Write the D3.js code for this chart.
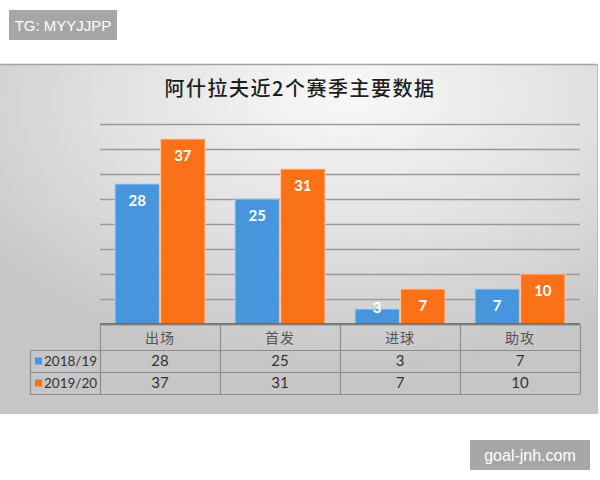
<!DOCTYPE html>
<html>
<head>
<meta charset="utf-8">
<script src="https://cdn.jsdelivr.net/npm/d3@7"></script>
<style>
  html, body { margin: 0; padding: 0; background: #fff; }
  svg { display: block; }
</style>
</head>
<body>
<svg id="chart" width="600" height="480"></svg>
<script>
const title = "阿什拉夫近2个赛季主要数据";
const categories = ["出场", "首发", "进球", "助攻"];
const seriesNames = ["2018/19", "2019/20"];
const values2018 = [28, 25, 3, 7];
const values2019 = [37, 31, 7, 10];
const gridTicks = [5, 10, 15, 20, 25, 30, 35, 40];
const seriesColors = ["#4795dd", "#fb7117"];
const seriesEdge = ["#a9d0f3", "#ffc9a0"];

const seriesValues = [values2018, values2019];

const svg = d3.select("#chart");
const defs = svg.append("defs");

const rg = defs.append("radialGradient").attr("id", "bg")
  .attr("cx", "58%").attr("cy", "12%").attr("r", "75%")
  .attr("fx", "58%").attr("fy", "8%");
rg.append("stop").attr("offset", "0%").attr("stop-color", "#f9f9f9");
rg.append("stop").attr("offset", "55%").attr("stop-color", "#e0e0e0");
rg.append("stop").attr("offset", "100%").attr("stop-color", "#c6c6c6");

svg.append("rect").attr("x", 0).attr("y", 64).attr("width", 598).attr("height", 350)
  .attr("fill", "url(#bg)");
svg.append("line").attr("x1", 0).attr("x2", 598).attr("y1", 64.5).attr("y2", 64.5)
  .attr("stroke", "#a4a4a4").attr("stroke-width", 1.5);
svg.append("line").attr("x1", 597.5).attr("x2", 597.5).attr("y1", 64).attr("y2", 414)
  .attr("stroke", "#bdbdbd").attr("stroke-width", 1);

svg.append("text").attr("x", 300).attr("y", 96).attr("text-anchor", "middle")
  .attr("font-family", "'Noto Sans CJK SC', sans-serif").attr("font-size", 20)
  .attr("font-weight", 500).attr("letter-spacing", 1.5)
  .attr("fill", "#1e1e1e").text(title);

const plotLeft = 100, plotRight = 580;
const y = d3.scaleLinear().domain([0, 40]).range([324, 124]);
const x0 = d3.scaleBand().domain(categories).range([plotLeft, plotRight])
  .paddingInner(0.25).paddingOuter(0.125);
const x1 = d3.scaleBand().domain(seriesNames).range([0, x0.bandwidth()]).paddingInner(0.03);
const col = d3.scaleBand().domain(categories).range([plotLeft, plotRight]);

svg.append("g").selectAll("line").data(gridTicks).join("line")
  .attr("x1", plotLeft).attr("x2", plotRight)
  .attr("y1", d => Math.round(y(d)) + 0.5).attr("y2", d => Math.round(y(d)) + 0.5)
  .attr("stroke", "#9a9a9a").attr("stroke-width", 1.3);

const groups = svg.append("g").selectAll("g").data(categories).join("g")
  .attr("transform", d => `translate(${x0(d)},0)`);

groups.selectAll("rect").data((c, i) => seriesNames.map((s, si) => ({ s, si, v: seriesValues[si][i] })))
  .join("rect")
  .attr("x", d => x1(d.s))
  .attr("y", d => y(d.v))
  .attr("width", x1.bandwidth())
  .attr("height", d => y(0) - y(d.v))
  .attr("fill", d => seriesColors[d.si])
  .attr("stroke", d => seriesEdge[d.si])
  .attr("stroke-width", 1);

groups.selectAll("text").data((c, i) => seriesNames.map((s, si) => ({ s, si, v: seriesValues[si][i] })))
  .join("text")
  .attr("x", d => x1(d.s) + x1.bandwidth() / 2)
  .attr("y", d => Math.min(y(d.v) + 17, y(0) - 16) + 5)
  .attr("text-anchor", "middle")
  .attr("font-family", "Lato, 'Open Sans', sans-serif")
  .attr("font-weight", 700).attr("font-size", 15)
  .attr("fill", "#ffffff")
  .text(d => d.v);

svg.append("line").attr("x1", plotLeft).attr("x2", plotRight)
  .attr("y1", y(0)).attr("y2", y(0))
  .attr("stroke", "#595959").attr("stroke-width", 1.6);

const tbl = svg.append("g");
const rowTop = [325, 350, 372];
const rowBot = [350, 372, 394];
const legendLeft = 30;
const lineColor = "#8c8c8c";

tbl.append("line").attr("x1", plotLeft).attr("x2", plotRight).attr("y1", 325).attr("y2", 325)
  .attr("stroke", lineColor);
[350, 372, 394].forEach(yy => {
  tbl.append("line").attr("x1", legendLeft).attr("x2", plotRight).attr("y1", yy + 0.5).attr("y2", yy + 0.5)
    .attr("stroke", lineColor).attr("stroke-width", 1.2);
});
tbl.append("line").attr("x1", legendLeft + 0.5).attr("x2", legendLeft + 0.5).attr("y1", 350).attr("y2", 394)
  .attr("stroke", lineColor).attr("stroke-width", 1.2);
const colEdges = categories.map(c => col(c)).concat([plotRight]);
tbl.selectAll("line.v").data(colEdges).join("line").attr("class", "v")
  .attr("x1", d => Math.round(d) + 0.5).attr("x2", d => Math.round(d) + 0.5)
  .attr("y1", 325).attr("y2", 394)
  .attr("stroke", lineColor).attr("stroke-width", 1.2);

tbl.selectAll("text.h").data(categories).join("text").attr("class", "h")
  .attr("x", d => col(d) + col.bandwidth() / 2)
  .attr("y", 343)
  .attr("text-anchor", "middle")
  .attr("font-family", "'Noto Sans CJK SC', sans-serif")
  .attr("font-size", 14).attr("letter-spacing", 1)
  .attr("fill", "#555555")
  .text(d => d);

seriesNames.forEach((s, si) => {
  const cy = (rowTop[si + 1] + rowBot[si + 1]) / 2;
  tbl.append("rect").attr("x", 35).attr("y", cy - 3.5).attr("width", 7).attr("height", 7)
    .attr("fill", seriesColors[si]);
  tbl.append("text").attr("x", 44).attr("y", cy + 5)
    .attr("font-family", "Lato, 'Open Sans', sans-serif").attr("font-size", 13.5)
    .attr("fill", "#333333").text(s);
  tbl.selectAll(null).data(seriesValues[si]).join("text")
    .attr("x", (d, i) => col(categories[i]) + col.bandwidth() / 2)
    .attr("y", cy + 5)
    .attr("text-anchor", "middle")
    .attr("font-family", "Lato, 'Open Sans', sans-serif").attr("font-size", 15)
    .attr("fill", "#333333")
    .text(d => d);
});

svg.append("rect").attr("x", 9).attr("y", 10).attr("width", 108).attr("height", 30).attr("fill", "#a6a6a6");
svg.append("text").attr("x", 63).attr("y", 30.5).attr("text-anchor", "middle")
  .attr("font-family", "'Liberation Sans', Arial, sans-serif").attr("font-size", 15)
  .attr("fill", "#ffffff").text("TG: MYYJJPP");
svg.append("rect").attr("x", 470).attr("y", 440).attr("width", 120).attr("height", 30).attr("fill", "#a6a6a6");
svg.append("text").attr("x", 530).attr("y", 461).attr("text-anchor", "middle")
  .attr("font-family", "'Liberation Sans', Arial, sans-serif").attr("font-size", 16)
  .attr("fill", "#ffffff").text("goal-jnh.com");
</script>
</body>
</html>
